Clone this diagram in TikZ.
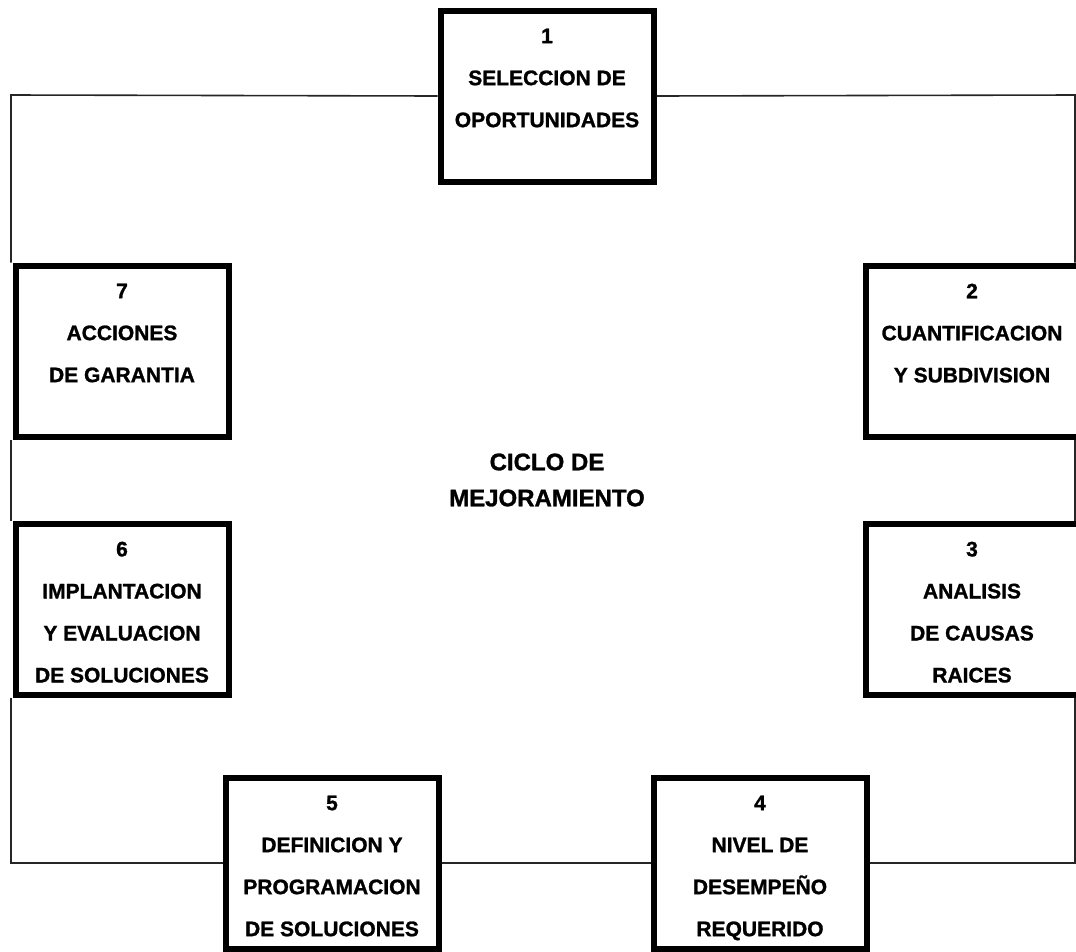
\documentclass[tikz,border=0pt]{standalone}
\usepackage{fontspec}
\setmainfont{Liberation Sans}[BoldFeatures={FakeBold=1.2}]
\begin{document}
\begin{tikzpicture}[x=1pt,y=-1pt,
  stepbox/.style={draw=black, line width=6pt, fill=white,
    minimum width=213pt, minimum height=171pt, inner sep=0pt},
  steptext/.style={anchor=north, inner sep=0pt, align=center,
    font=\fontsize{21}{42}\selectfont\bfseries},
  centertext/.style={inner sep=0pt, align=center,
    font=\fontsize{24}{36}\selectfont\bfseries},
  frame/.style={draw=black!85, line width=1.6pt}]
  \useasboundingbox (0,0) rectangle (1076,951);
  \clip (0,0) rectangle (1076,951);

  % corners of the cycle frame
  \coordinate (NW) at (11,95);
  \coordinate (NE) at (1075,95);
  \coordinate (SE) at (1075,863);
  \coordinate (SW) at (11,863);

  % the seven steps
  \node[stepbox] (b1) at (547,96) {};
  \node[stepbox] (b2) at (972,351) {};
  \node[stepbox] (b3) at (972,609) {};
  \node[stepbox] (b4) at (760,863) {};
  \node[stepbox] (b5) at (332,863) {};
  \node[stepbox] (b6) at (122,609) {};
  \node[stepbox] (b7) at (122,351) {};

  \node[steptext] (t1) at ([yshift=67.5pt]b1.center) {1\\SELECCION DE\\OPORTUNIDADES};
  \node[steptext] (t2) at ([yshift=67.5pt]b2.center) {2\\CUANTIFICACION\\Y SUBDIVISION};
  \node[steptext] (t3) at ([yshift=67.5pt]b3.center) {3\\ANALISIS\\DE CAUSAS\\RAICES};
  \node[steptext] (t4) at ([yshift=67.5pt]b4.center) {4\\NIVEL DE\\DESEMPEÑO\\REQUERIDO};
  \node[steptext] (t5) at ([yshift=67.5pt]b5.center) {5\\DEFINICION Y\\PROGRAMACION\\DE SOLUCIONES};
  \node[steptext] (t6) at ([yshift=67.5pt]b6.center) {6\\IMPLANTACION\\Y EVALUACION\\DE SOLUCIONES};
  \node[steptext] (t7) at ([yshift=67.5pt]b7.center) {7\\ACCIONES\\DE GARANTIA};

  \node[centertext] (ciclo) at (547,480) {CICLO DE\\MEJORAMIENTO};

  % frame linking the steps
  \draw[frame] (b1.east) -- (NE) -- (b2.north -| NE);
  \draw[frame] (b2.south -| NE) -- (b3.north -| NE);
  \draw[frame] (b3.south -| NE) -- (SE) -- (b4.east);
  \draw[frame] (b4.west) -- (b5.east);
  \draw[frame] (b5.west) -- (SW) -- (b6.south -| SW);
  \draw[frame] (b6.north -| SW) -- (b7.south -| SW);
  \draw[frame] (b7.north -| SW) -- (NW) -- (b1.west);
\end{tikzpicture}
\end{document}
